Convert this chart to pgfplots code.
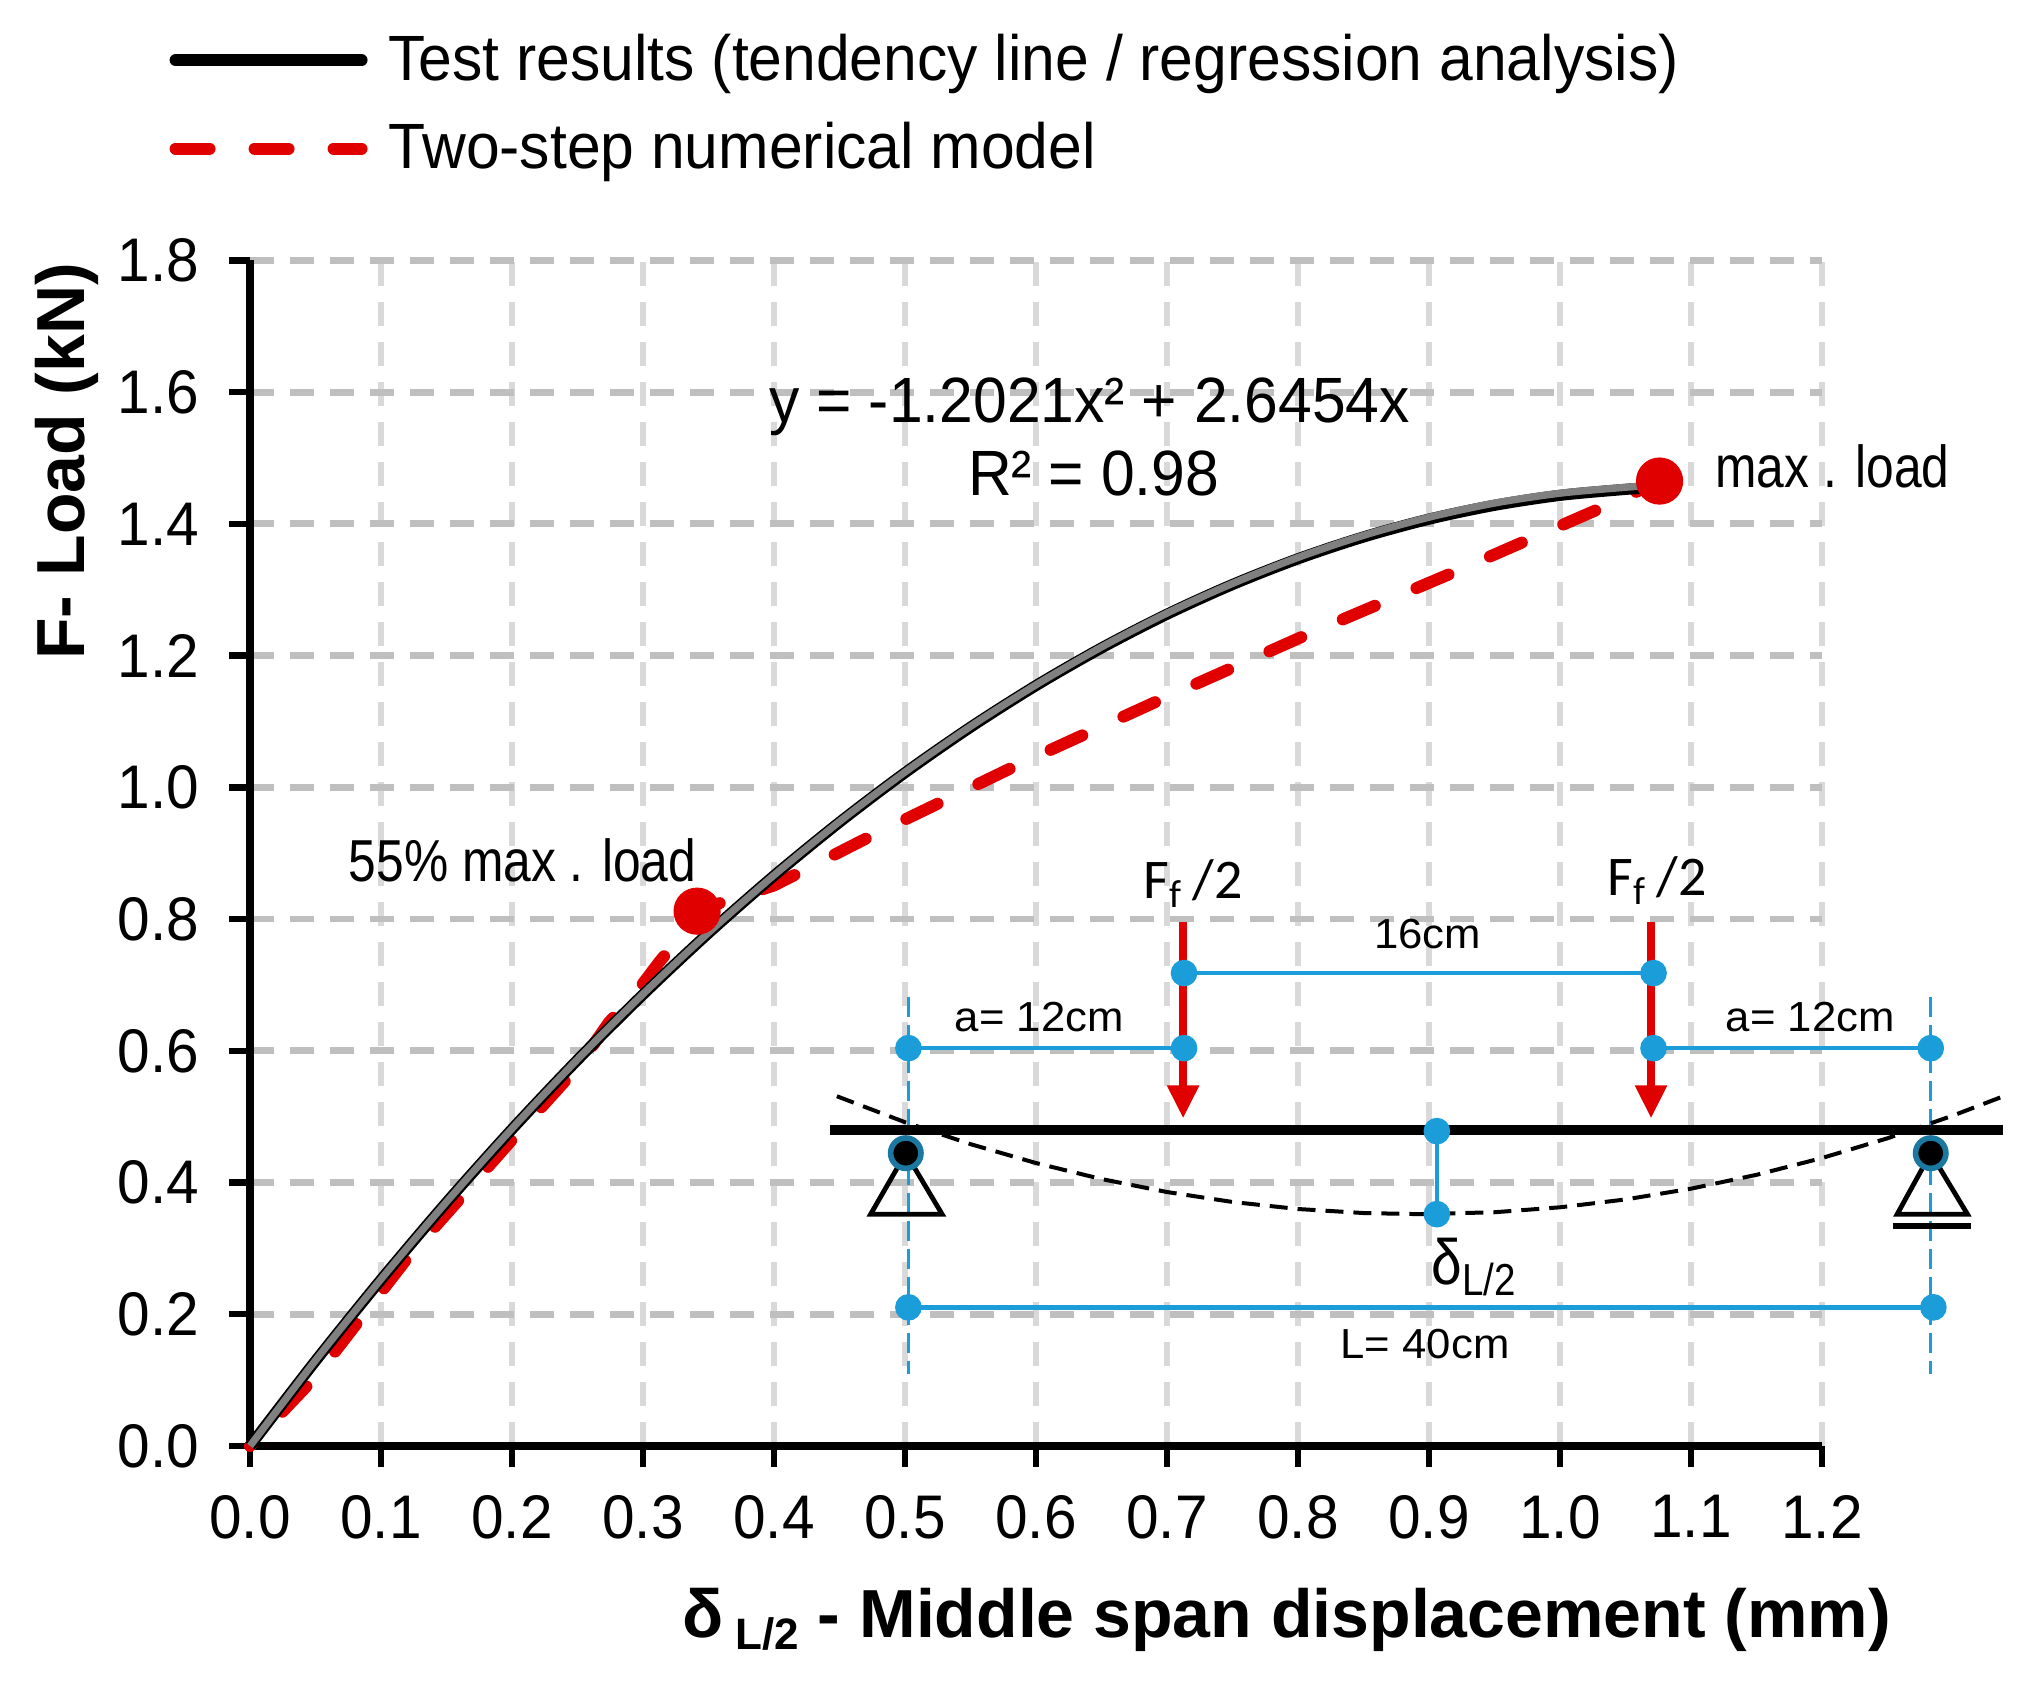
\documentclass[border=0pt]{standalone}
\usepackage{pgfplots}
\pgfplotsset{compat=1.18}
\usepackage{pgfplotstable}
\usepackage{fontspec}
\setmainfont{Liberation Sans}
\newfontfamily\legendfont[FakeStretch=0.947]{Liberation Sans}
\newfontfamily\notefont[FakeStretch=0.84]{Liberation Sans}
\newfontfamily\tickfont[FakeStretch=0.95]{Liberation Sans}
\newfontfamily\dimfont[FakeStretch=1.04]{Liberation Sans}
\newfontfamily\deltafont[FakeStretch=0.86]{Liberation Sans}
\newfontfamily\forcefont{Carlito}
\definecolor{gridh}{RGB}{191,191,191}
\definecolor{gridv}{RGB}{217,217,217}
\definecolor{modelred}{RGB}{224,0,0}
\definecolor{dimblue}{RGB}{27,157,217}
\definecolor{pinblue}{RGB}{27,120,160}
\definecolor{trendgray}{RGB}{128,128,128}

\pgfplotstableread{
x y
0 0
0.05 0.1292
0.10 0.2525
0.15 0.3698
0.20 0.4810
0.25 0.5862
0.30 0.6854
0.35 0.7786
0.40 0.8658
0.45 0.9470
0.50 1.0222
0.55 1.0913
0.60 1.1545
0.65 1.2116
0.70 1.2628
0.75 1.3079
0.80 1.3470
0.85 1.3801
0.90 1.4072
0.95 1.4282
1.00 1.4433
1.05 1.4524
1.07 1.4550
}\testdata

\pgfplotstableread{
x y
0 0
0.05 0.1300
0.10 0.2532
0.15 0.3705
0.20 0.4818
0.25 0.5870
0.30 0.6862
0.35 0.7794
0.40 0.8666
0.45 0.9480
0.50 1.0232
0.55 1.0925
0.60 1.1556
0.65 1.2130
0.70 1.2645
0.75 1.3095
0.80 1.3490
0.85 1.3825
0.90 1.4100
0.95 1.4315
1.00 1.4465
1.05 1.4555
1.08 1.4600
}\trenddata

\pgfplotstableread{
x y
0 0
0.05 0.105
0.12 0.285
0.20 0.465
0.25 0.575
0.274 0.643
0.295 0.689
0.3125 0.735
0.332 0.782
0.3413 0.812
0.364 0.828
0.40 0.851
0.475 0.927
0.587 1.035
0.695 1.133
0.807 1.232
0.916 1.324
1.029 1.422
1.076 1.465
}\modeldata

\pgfplotstableread{
x y
0.448 0.531
0.50 0.4916
0.55 0.4583
0.60 0.4296
0.65 0.4053
0.70 0.3856
0.75 0.3705
0.80 0.3598
0.85 0.3537
0.893 0.3520
0.95 0.3549
1.00 0.3624
1.05 0.3743
1.10 0.3907
1.15 0.4117
1.20 0.4372
1.25 0.4672
1.30 0.5017
1.3385 0.5310
}\deflected

\begin{document}
\begin{tikzpicture}
\useasboundingbox (-62.5pt,-59pt) rectangle ++(508.25pt,420.5pt);
\begin{axis}[
  at={(0,0)}, anchor=south west,
  scale only axis,
  width=393pt, height=296.4pt,
  xmin=0, xmax=1.2, ymin=0, ymax=1.8,
  clip=false,
  axis lines=left,
  axis line style={black, line width=1.8pt, -},
  xtick={0,0.1,0.2,0.3,0.4,0.5,0.6,0.7,0.8,0.9,1.0,1.1,1.2},
  ytick={0,0.2,0.4,0.6,0.8,1.0,1.2,1.4,1.6,1.8},
  tick style={black, line width=1.6pt},
  major tick length=5.2pt,
  tick align=outside,
  xmajorgrids, ymajorgrids,
  x grid style={gridv, line width=1.45pt, dash pattern=on 6pt off 4pt},
  y grid style={gridh, line width=1.7pt, dash pattern=on 6pt off 4pt},
  tick label style={font=\tickfont\fontsize{15.4}{17}\selectfont},
  /pgf/number format/assume math mode=true,
  /pgf/number format/.cd, fixed, fixed zerofill, precision=1, /pgfplots/.cd,
  xticklabel style={yshift=-3.6pt},
  yticklabel style={xshift=-4pt},
  xlabel={δ\,{\fontsize{11}{12}\selectfont\raisebox{-3pt}{L/2}} - Middle span displacement (mm)},
  xlabel style={font=\bfseries\fontsize{17}{20}\selectfont, at={(axis description cs:0.6596,-0.1466)}, anchor=center},
  ylabel={F- Load (kN)},
  ylabel style={font=\bfseries\fontsize{17}{20}\selectfont, at={(axis description cs:-0.1167,0.8306)}, anchor=center},
  legend style={draw=none, fill=none, at={(axis cs:-0.062,2.157)}, anchor=north west,
    font=\legendfont\fontsize{16}{18}\selectfont, inner sep=0pt, row sep=5pt,
    cells={anchor=west}, /tikz/column 1/.style={column sep=3.25pt}},
  legend image code/.code={\draw[#1] (0pt,0pt) -- (46.5pt,0pt);},
  legend cell align=left,
]
\addplot[modelred, line width=3pt, line cap=round, dash pattern=on 8.7pt off 11.3pt, dash phase=8.2pt, forget plot] table[x=x,y=y] {\modeldata};
\addplot[only marks, mark=*, mark size=5.7pt, mark options={modelred, fill=modelred}, forget plot] coordinates {(0.3413,0.812) (1.076,1.465)};
\addplot[black, line width=2.8pt, smooth, forget plot] table[x=x,y=y] {\testdata};
\addplot[trendgray, line width=1.8pt, smooth, forget plot] table[x=x,y=y] {\trenddata};

% legend samples only
\addlegendimage{black, line width=3pt, line cap=round}
\addlegendentry{Test results (tendency line / regression analysis)}
\addlegendimage{modelred, line width=3pt, line cap=round, dash pattern=on 8.5pt off 11.25pt}
\addlegendentry{Two-step numerical model}

% beam sketch
\addplot[dimblue, line width=0.8pt, dash pattern=on 5pt off 2pt, forget plot] coordinates {(0.5026,0.681) (0.5026,0.11)};
\addplot[dimblue, line width=0.8pt, dash pattern=on 5pt off 2pt, forget plot] coordinates {(1.283,0.681) (1.283,0.11)};
\addplot[black, line width=2.4pt, forget plot] coordinates {(0.443,0.480) (1.3385,0.480)};
\addplot[black, line width=1pt, dash pattern=on 4.5pt off 2.5pt, forget plot] table[x=x,y=y] {\deflected};
\addplot[modelred, line width=2.1pt, forget plot] coordinates {(0.7123,0.795) (0.7123,0.52)};
\addplot[modelred, line width=2.1pt, forget plot] coordinates {(1.0695,0.795) (1.0695,0.52)};
\addplot[fill=modelred, draw=none, forget plot] coordinates {(0.6998,0.5475) (0.7248,0.5475) (0.7123,0.4985)} -- cycle;
\addplot[fill=modelred, draw=none, forget plot] coordinates {(1.0570,0.5475) (1.0820,0.5475) (1.0695,0.4985)} -- cycle;
\addplot[black, line width=1.2pt, forget plot] coordinates {(0.5006,0.4446) (0.4738,0.352) (0.5283,0.352)} -- cycle;
\addplot[black, line width=1.2pt, forget plot] coordinates {(1.283,0.4446) (1.2574,0.352) (1.311,0.352)} -- cycle;
\addplot[black, line width=1.5pt, forget plot] coordinates {(1.2544,0.3345) (1.314,0.3345)};
\addplot[only marks, mark=*, mark size=3.8pt, mark options={draw=pinblue, fill=black, line width=1.4pt}, forget plot] coordinates {(0.5006,0.4446) (1.283,0.4446)};
\addplot[dimblue, line width=1.15pt, mark=*, mark size=2.75pt, mark options={dimblue, fill=dimblue}, forget plot] coordinates {(0.5026,0.604) (0.713,0.604)};
\addplot[dimblue, line width=1.15pt, mark=*, mark size=2.75pt, mark options={dimblue, fill=dimblue}, forget plot] coordinates {(1.0714,0.604) (1.283,0.604)};
\addplot[dimblue, line width=1.15pt, mark=*, mark size=2.75pt, mark options={dimblue, fill=dimblue}, forget plot] coordinates {(0.713,0.718) (1.0714,0.718)};
\addplot[dimblue, line width=1.15pt, mark=*, mark size=2.75pt, mark options={dimblue, fill=dimblue}, forget plot] coordinates {(0.5026,0.2105) (1.285,0.2105)};
\addplot[dimblue, line width=1.15pt, mark=*, mark size=2.75pt, mark options={dimblue, fill=dimblue}, forget plot] coordinates {(0.906,0.478) (0.906,0.352)};

\node[font=\legendfont\fontsize{16}{18}\selectfont] at (axis cs:0.641,1.577) {y = -1.2021x² + 2.6454x};
\node[font=\legendfont\fontsize{16}{18}\selectfont] at (axis cs:0.644,1.477) {R² = 0.98};
\node[font=\notefont\fontsize{14.8}{16}\selectfont] at (axis cs:1.208,1.487) {max . load};
\node[font=\notefont\fontsize{14.8}{16}\selectfont] at (axis cs:0.208,0.889) {55\% max . load};
\node[font=\forcefont\fontsize{14}{16}\selectfont] at (axis cs:0.72,0.854) {F\textsubscript{f}\,/2};
\node[font=\forcefont\fontsize{14}{16}\selectfont] at (axis cs:1.074,0.858) {F\textsubscript{f}\,/2};
\node[font=\dimfont\fontsize{10.5}{12}\selectfont] at (axis cs:0.899,0.777) {16cm};
\node[font=\dimfont\fontsize{10.5}{12}\selectfont] at (axis cs:0.6025,0.651) {a= 12cm};
\node[font=\dimfont\fontsize{10.5}{12}\selectfont] at (axis cs:1.191,0.651) {a= 12cm};
\node[font=\dimfont\fontsize{10.5}{12}\selectfont] at (axis cs:0.897,0.155) {L= 40cm};
\node[font=\deltafont\fontsize{16}{18}\selectfont] at (axis cs:0.935,0.2715) {δ\textsubscript{L/2}};
\end{axis}
\end{tikzpicture}
\end{document}
